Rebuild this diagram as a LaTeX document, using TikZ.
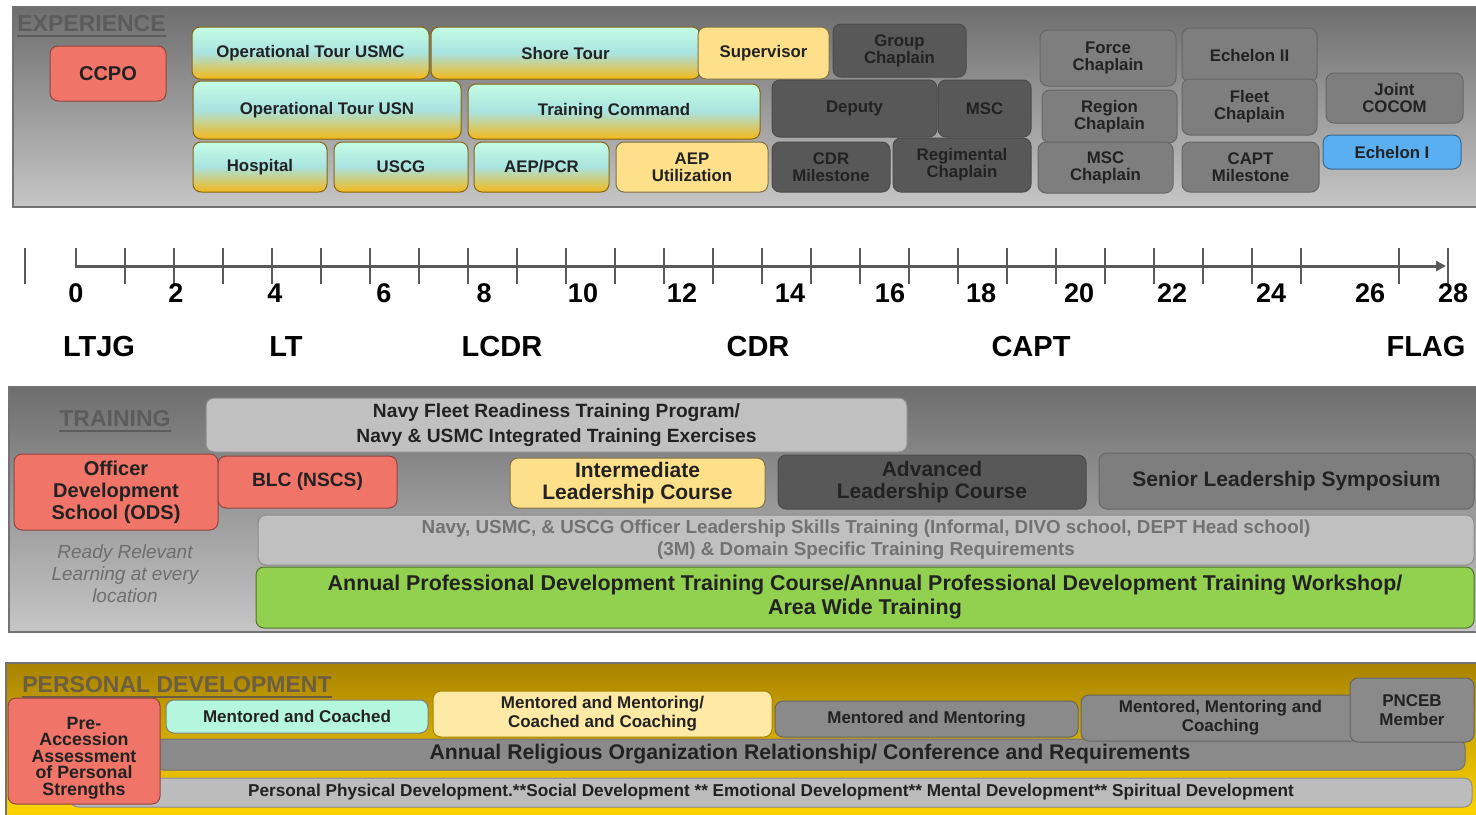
\documentclass[tikz,border=0pt]{standalone}
\usepackage{fontspec}
\setmainfont{Liberation Sans}
\usetikzlibrary{arrows.meta}

\definecolor{mintTop}{HTML}{C4FCE4}
\definecolor{mintMid}{HTML}{A9E3E0}
\definecolor{tourBot}{HTML}{F4B81A}
\definecolor{ccpoRed}{HTML}{F07468}
\definecolor{paleYel}{HTML}{FFE08A}
\definecolor{darkGry}{HTML}{585858}
\definecolor{midGry}{HTML}{7E7E7E}
\definecolor{lightGry}{HTML}{C0C0C0}
\definecolor{echBlue}{HTML}{5AAEF2}
\definecolor{annGreen}{HTML}{92D050}
\definecolor{pnlTop}{HTML}{6E6E6E}
\definecolor{pnlBot}{HTML}{C6C6C6}
\definecolor{goldTop}{HTML}{A98300}
\definecolor{goldBot}{HTML}{FFD800}
\definecolor{inkGry}{HTML}{222222}
\definecolor{hdGry}{HTML}{5C5C5C}
\definecolor{hdBrn}{HTML}{6B5E45}
\definecolor{axisGry}{HTML}{595959}
\definecolor{rrlGry}{HTML}{6E6E6E}
\definecolor{olstGry}{HTML}{727272}
\definecolor{mentMint}{HTML}{B5F7DE}
\definecolor{mentYel}{HTML}{FFEAA5}
\definecolor{pdGry}{HTML}{8A8A8A}
\definecolor{pdLight}{HTML}{BCBCBC}

\newcommand{\placebox}[6]{\node[#1,minimum width={(#4-#2)*0.5pt},minimum height={(#5-#3)*0.5pt}] (#6) at ({(#2+#4)/2},{(#3+#5)/2})}

\begin{document}
\begin{tikzpicture}[x=0.5pt,y=-0.5pt,
  panel/.style={draw=black!55,line width=0.6pt,inner sep=0pt,outer sep=0pt},
  box/.style={rounded corners=4pt,inner sep=0pt,outer sep=0pt,line width=0.5pt,align=center,text=inkGry,font=\bfseries\fontsize{8.4}{8.5}\selectfont},
  tourbox/.style={box,draw=tourBot!55!black,top color=mintTop,bottom color=tourBot,middle color=mintMid},
  palebox/.style={box,draw=paleYel!50!black,fill=paleYel},
  darkbox/.style={box,draw=darkGry!85!black,fill=darkGry},
  midbox/.style={box,draw=black!60,fill=midGry},
  redbox/.style={box,draw=ccpoRed!60!black,fill=ccpoRed},
  echbox/.style={box,draw=echBlue!60!black,fill=echBlue},
  lightbox/.style={box,draw=black!45,fill=lightGry},
  greenbox/.style={box,draw=annGreen!55!black,fill=annGreen},
  trn/.style={font=\bfseries\fontsize{10.5}{10.8}\selectfont},
  pd/.style={font=\bfseries\fontsize{8.5}{9.5}\selectfont},
  hdg/.style={anchor=base west,inner sep=0pt,font=\bfseries\fontsize{11.5}{12}\selectfont},
  yrnum/.style={anchor=base,inner sep=0pt,font=\bfseries\fontsize{13.5}{14}\selectfont},
  rank/.style={anchor=base,inner sep=0pt,font=\bfseries\fontsize{14.5}{15}\selectfont},
  yrtick/.style={axisGry,line width=0.8pt}]

\useasboundingbox (0,0) rectangle (1476,814);

% experience
\placebox{panel,top color=pnlTop,bottom color=pnlBot}{13}{7}{1480}{207}{exppnl} {};
\node[hdg,text=hdGry] (exphd) at (17,31) {EXPERIENCE};
\draw[hdGry,line width=1.2pt] ([yshift=-2.5pt]exphd.base west) -- ([yshift=-2.5pt]exphd.base east);
\placebox{redbox,font=\bfseries\fontsize{10}{11}\selectfont}{50}{46}{166}{101}{ccpo} {CCPO};
\placebox{tourbox}{192}{27}{429}{79}{usmc} {Operational Tour USMC};
\placebox{tourbox}{431}{27}{700}{79}{shore} {Shore Tour};
\placebox{palebox}{698}{27}{829}{79}{supv} {Supervisor};
\placebox{darkbox}{833}{24}{966}{77}{grpch} {Group\\Chaplain};
\placebox{tourbox}{193}{81}{461}{139}{usn} {Operational Tour USN};
\placebox{tourbox}{468}{84}{760}{139}{trcmd} {Training Command};
\placebox{darkbox}{772}{80}{937}{137}{deputy} {Deputy};
\placebox{darkbox}{938}{80}{1031}{137}{msc} {MSC};
\placebox{tourbox}{193}{142}{327}{192}{hosp} {Hospital};
\placebox{tourbox}{334}{142}{468}{192}{uscg} {USCG};
\placebox{tourbox}{474}{142}{609}{192}{aep} {AEP/PCR};
\placebox{palebox}{616}{142}{768}{192}{aepu} {AEP\\Utilization};
\placebox{darkbox}{772}{142}{890}{192}{cdrms} {CDR\\Milestone};
\placebox{darkbox}{893}{138}{1031}{192}{regch} {Regimental\\Chaplain};
\placebox{midbox}{1040}{30}{1176}{86}{forch} {Force\\Chaplain};
\placebox{midbox}{1042}{90}{1177}{143}{regnch} {Region\\Chaplain};
\placebox{midbox}{1038}{142}{1173}{193}{mscch} {MSC\\Chaplain};
\placebox{midbox}{1182}{28}{1317}{82}{ech2} {Echelon II};
\placebox{midbox}{1182}{79}{1317}{135}{fleet} {Fleet\\Chaplain};
\placebox{midbox}{1182}{142}{1319}{192}{captms} {CAPT\\Milestone};
\placebox{midbox}{1326}{73}{1463}{123}{joint} {Joint\\COCOM};
\placebox{echbox}{1323}{135}{1461}{169}{ech1} {Echelon I};

% timeline
\coordinate (ax0) at (76,266);
\coordinate (ax1) at (1446,266);
\draw[axisGry,line width=1.5pt,-{Triangle[length=5pt,width=5pt]}] (ax0) -- (ax1);
\draw[yrtick] (25,248) -- (25,284);
\draw[yrtick] (76,248) -- (76,268);
\foreach \k in {1,...,25,27,28}
  \draw[yrtick] ({76+49*\k},248) -- ++(0,36);
\foreach \v/\xx in {0/76,2/176,4/275,6/384,8/484,10/583,12/682,14/790,16/890,18/981,20/1079,22/1172,24/1271,26/1370,28/1453}
  \node[yrnum] (yr\v) at (\xx,302) {\v};
\foreach \r/\xx in {LTJG/99,LT/286,LCDR/502,CDR/758,CAPT/1031,FLAG/1426}
  \node[rank] (\r) at (\xx,356) {\r};

% training
\placebox{panel,top color=pnlTop,bottom color=pnlBot}{9}{387}{1480}{632}{trnpnl} {};
\node[hdg,text=hdGry] (trnhd) at (59,426) {TRAINING};
\draw[hdGry,line width=1.2pt] ([yshift=-2.5pt]trnhd.base west) -- ([yshift=-2.5pt]trnhd.base east);
\placebox{lightbox,font=\bfseries\fontsize{9.6}{12.5}\selectfont}{206}{398}{907}{452}{nfrtp} {Navy Fleet Readiness Training Program/\\Navy \& USMC Integrated Training Exercises};
\placebox{redbox,trn,font=\bfseries\fontsize{10}{11}\selectfont}{14}{454}{218}{530}{ods} {Officer\\Development\\School (ODS)};
\placebox{redbox,font=\bfseries\fontsize{9.6}{10}\selectfont}{218}{456}{397}{508}{blc} {BLC (NSCS)};
\placebox{palebox,trn}{510}{458}{765}{508}{ilc} {Intermediate\\Leadership Course};
\placebox{darkbox,trn}{778}{455}{1086}{509}{alc} {Advanced\\Leadership Course};
\placebox{midbox,trn}{1099}{453}{1474}{509}{sls} {Senior Leadership Symposium};
\placebox{lightbox,text=olstGry,font=\bfseries\fontsize{9.4}{11}\selectfont}{258}{515}{1474}{565}{olst} {Navy, USMC, \& USCG Officer Leadership Skills Training (Informal, DIVO school, DEPT Head school)\\(3M) \& Domain Specific Training Requirements};
\placebox{greenbox,font=\bfseries\fontsize{10.7}{12}\selectfont}{256}{567}{1474}{628}{apdt} {Annual Professional Development Training Course/Annual Professional Development Training Workshop/\\Area Wide Training};
\node[align=center,inner sep=0pt,text=rrlGry,font=\itshape\fontsize{9.5}{11}\selectfont] (rrl) at (125,574) {Ready Relevant\\Learning at every\\location};

% personal development
\placebox{panel,top color=goldTop,bottom color=goldBot}{6}{663}{1480}{820}{pdpnl} {};
\node[hdg,text=hdBrn] (pdhd) at (22,692) {PERSONAL DEVELOPMENT};
\draw[hdBrn,line width=1.2pt] ([yshift=-2.5pt]pdhd.base west) -- ([yshift=-2.5pt]pdhd.base east);
\placebox{box,draw=black!55,fill=pdGry,font=\bfseries\fontsize{10.6}{11}\selectfont}{155}{739}{1465}{770}{aroc} {Annual Religious Organization Relationship/ Conference and Requirements};
\placebox{box,draw=black!45,fill=pdLight,font=\bfseries\fontsize{8.6}{9}\selectfont}{70}{778}{1472}{807}{ppd} {Personal Physical Development.**Social Development ** Emotional Development** Mental Development** Spiritual Development};
\placebox{redbox}{8}{698}{160}{804}{preacc} {};
\node[align=center,inner sep=0pt,text=inkGry,font=\bfseries\fontsize{8.9}{8.3}\selectfont] (preacctxt) at ([yshift=-3.5pt]preacc.center) {Pre-\\Accession\\Assessment\\of Personal\\Strengths};
\placebox{box,pd,draw=black!50,fill=mentMint}{166}{700}{428}{733}{mcoach} {Mentored and Coached};
\placebox{box,pd,draw=goldTop,fill=mentYel}{433}{691}{772}{737}{mment} {Mentored and Mentoring/\\Coached and Coaching};
\placebox{box,pd,draw=black!60,fill=pdGry}{775}{701}{1078}{737}{mmonly} {Mentored and Mentoring};
\placebox{box,pd,draw=black!60,fill=pdGry}{1081}{695}{1360}{741}{mmcoach} {Mentored, Mentoring and\\Coaching};
\placebox{box,pd,draw=black!60,fill=pdGry}{1350}{678}{1474}{742}{pnceb} {PNCEB\\Member};
\end{tikzpicture}
\end{document}
